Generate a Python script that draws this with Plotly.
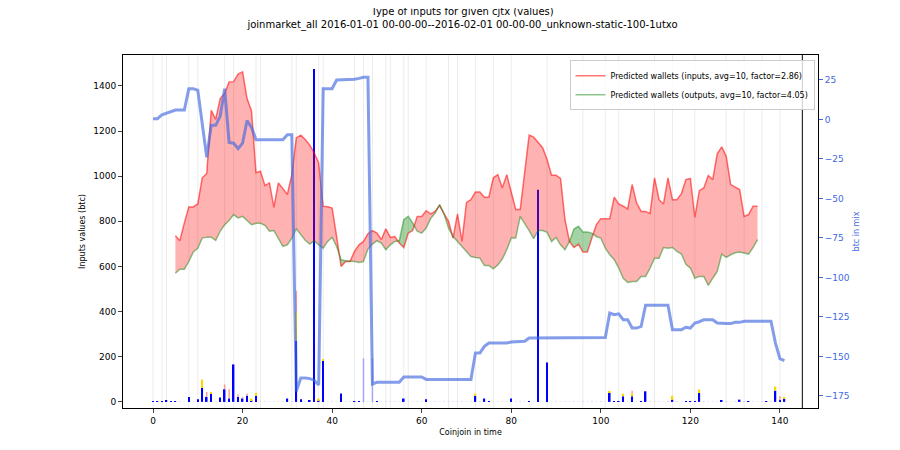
import numpy as np
import plotly.graph_objects as go

x_pred = list(range(5, 136))
inputs = [736,714,793,864,864,877,993,1012,1292,1252,1344,1366,1418,1419,1452,1462,1344,1289,1015,1022,
          958,970,862,970,945,919,1007,1170,1182,1163,1138,1104,1059,867,865,859,733,600,622,622,
          667,696,711,745,759,748,719,767,729,733,704,684,748,759,822,822,847,833,844,870,
          833,800,726,833,711,884,896,930,930,907,907,993,1007,948,1007,933,852,852,1022,1182,
          1173,1148,1126,1074,1004,1004,990,807,711,684,699,664,664,726,785,812,812,812,907,877,
          867,855,963,881,844,844,834,993,896,877,993,896,896,923,985,990,818,936,948,1003,
          985,1099,1130,1089,963,951,941,822,830,867,867]
outputs = [570,588,588,622,664,681,726,730,730,716,756,785,804,830,815,822,804,785,791,791,
           782,756,759,726,689,696,726,767,741,716,699,714,696,681,711,729,689,630,625,625,
           622,618,622,677,699,714,704,674,696,711,714,807,822,793,756,748,770,812,837,874,
           833,770,733,711,689,667,644,640,637,604,604,590,607,633,674,726,726,822,793,759,
           723,759,759,751,711,729,696,674,711,766,778,753,753,748,733,726,681,652,630,593,
           548,529,533,533,556,556,593,637,637,684,681,684,667,655,610,593,548,556,556,516,
           548,578,655,640,652,661,664,661,655,684,719]

x_mix = list(range(0, 142))
btc_in_mix = [0.5,0.5,3,4,4.5,6,6,6,19.5,19.5,18.5,-3,-24,-3.7,-3.7,2,19.5,-14.5,-15,-18.5,
              -15,-0.7,-5,-12.8,-12.8,-12.8,-12.8,-12.8,-12.8,-12.8,-9.6,-9.6,-172,-163.6,-163.6,-164,-165,-168,19.5,19.5,
              19.5,25,25,25.2,25.2,25.4,26,26.7,26.7,-167.4,-166.3,-166.3,-166.3,-166.3,-166.3,-166.3,-163,-163,-163,-163,
              -163,-164.5,-164.5,-164.5,-164.5,-164.5,-164.5,-164.5,-164.5,-164.5,-164.5,-164.5,-147.8,-147.8,-143.6,-141.5,-141.5,-141.5,-141.5,-141.5,
              -140.8,-140.8,-140.8,-140.4,-138.3,-138.3,-138.3,-138.3,-138.3,-138.3,-138.1,-138.1,-138.1,-138.1,-138.1,-138.1,-138.1,-138.1,-138.1,-138.1,
              -138.1,-138,-122.5,-123.5,-123,-126.7,-126.7,-132,-132,-131,-117.6,-117.6,-117.6,-117.6,-117.6,-117.6,-133,-133,-133,-131.5,
              -132,-128.8,-128,-126.7,-126.7,-126.7,-128.8,-129.2,-129.2,-129.2,-128.4,-128.4,-127.7,-127.7,-127.7,-127.7,-127.7,-127.7,-127.7,-141.5,
              -151.4,-152.6]

blue_vals = {0:3,1:2,2:3,3:5,4:4,5:4,8:22,10:12,11:62,12:22,13:37,15:19,16:56,17:15,18:166,19:22,20:15,21:27,22:7,23:27,
             30:15,32:270,33:12,35:7,36:1475,37:7,38:185,42:37,45:2,46:2,50:4,56:15,61:12,72:27,74:15,75:4,80:15,84:4,
             86:940,88:175,102:40,103:4,104:4,105:25,107:25,109:4,110:47,116:10,119:4,120:4,121:4,122:40,127:7,131:10,
             133:4,137:2,139:50,140:7,141:15}
yellow_vals = {11:37,13:7,22:8,23:14,32:130,37:8,38:5,72:10,102:4,105:12,107:12,116:17,122:15,139:18,141:6}
pink_vals = {12:22,16:21,17:41,19:12,20:7,21:10,32:92,107:12,140:18}
faded_vals = {47:193,49:193}
grid_x = [0,2,3,8,10,16,18,23,24,31,32,37,38,45,47,49,52,53,56,57,61,66,68,72,76,80,88,96,101,104,112,116,121,128,132,136,140]

fig = go.Figure()

xp = np.array(x_pred, float); a = np.array(inputs, float); b = np.array(outputs, float)
X = [xp[0]]; A = [a[0]]; B = [b[0]]
for i in range(len(xp) - 1):
    d0 = a[i] - b[i]; d1 = a[i+1] - b[i+1]
    if d0 * d1 < 0:
        t = d0 / (d0 - d1)
        xc = xp[i] + t * (xp[i+1] - xp[i]); yc = a[i] + t * (a[i+1] - a[i])
        X.append(xc); A.append(yc); B.append(yc)
    X.append(xp[i+1]); A.append(a[i+1]); B.append(b[i+1])
X = np.array(X); A = np.array(A); B = np.array(B); M = np.minimum(A, B)

for top, col in ((A, 'rgba(255,0,0,0.3)'), (B, 'rgba(0,128,0,0.35)')):
    fig.add_trace(go.Scatter(x=X, y=M, mode='lines', line=dict(width=0), showlegend=False, hoverinfo='skip'))
    fig.add_trace(go.Scatter(x=X, y=top, mode='lines', line=dict(width=0), fill='tonexty', fillcolor=col,
                             showlegend=False, hoverinfo='skip'))

fig.add_trace(go.Scatter(x=x_pred, y=inputs, mode='lines', line=dict(color='rgba(255,0,0,0.55)', width=1.5),
                         name='Predicted wallets (inputs, avg=10, factor=2.86)', legendrank=1))
fig.add_trace(go.Scatter(x=x_pred, y=outputs, mode='lines', line=dict(color='rgba(0,128,0,0.45)', width=1.5),
                         name='Predicted wallets (outputs, avg=10, factor=4.05)', legendrank=2))

def bar(d, color, base=None):
    xs = list(d.keys()); ys = list(d.values())
    bs = [base.get(k, 0) for k in xs] if base else None
    fig.add_trace(go.Bar(x=xs, y=ys, base=bs, marker=dict(color=color, line=dict(width=0)), width=0.35,
                         showlegend=False))
baseline = {k: 1.5 for k in x_mix if k not in blue_vals}
fig.add_trace(go.Bar(x=list(baseline.keys()), y=list(baseline.values()), base=0,
                     marker=dict(color='rgba(0,0,255,0.3)', line=dict(width=0)), width=0.35, showlegend=False))
bar(blue_vals, 'blue')
bar(yellow_vals, 'gold', blue_vals)
ybase = {k: blue_vals.get(k, 0) + yellow_vals.get(k, 0) for k in pink_vals}
bar(pink_vals, 'rgba(240,128,128,0.7)', ybase)
bar(faded_vals, 'rgba(0,0,255,0.3)')

fig.add_trace(go.Scatter(x=x_mix, y=btc_in_mix, mode='lines', yaxis='y2',
                         line=dict(color='rgba(65,105,225,0.65)', width=3), showlegend=False))

shapes = [dict(type='line', xref='x', yref='paper', x0=g, x1=g, y0=0, y1=1,
               line=dict(color='rgba(0,0,0,0.08)', width=1), layer='below') for g in grid_x]
shapes.append(dict(type='line', xref='x', yref='paper', x0=145, x1=145, y0=0, y1=1,
                   line=dict(color='black', width=1)))

fig.update_layout(
    width=900, height=450, barmode='overlay', plot_bgcolor='white', paper_bgcolor='white',
    margin=dict(l=115, r=90, t=47, b=50, autoexpand=False),
    font=dict(family='DejaVu Sans', size=9, color='black'),
    title=dict(text='Type of inputs for given cjtx (values)<br>joinmarket_all 2016-01-01 00-00-00--2016-02-01 00-00-00_unknown-static-100-1utxo',
               x=0.505, xanchor='center', yref='container', y=0.985, yanchor='top', font=dict(size=10)),
    xaxis=dict(range=[-6.7, 148.5], tickvals=[0,20,40,60,80,100,120,140], showgrid=False, zeroline=False,
               showline=True, linecolor='black', mirror=True, ticks='outside', ticklen=4, automargin=False,
               title=dict(text='Coinjoin in time', standoff=4, font=dict(size=8))),
    yaxis=dict(range=[-27, 1537], tickvals=list(range(0, 1600, 200)), showgrid=False, zeroline=False,
               showline=True, linecolor='black', mirror=True, ticks='outside', ticklen=4, automargin=False,
               title=dict(text='Inputs values (btc)', standoff=6, font=dict(size=8))),
    yaxis2=dict(overlaying='y', side='right', range=[-182.6, 40.8], tickvals=[25,0,-25,-50,-75,-100,-125,-150,-175],
                ticktext=['25','0','−25','−50','−75','−100','−125','−150','−175'], automargin=False,
                showgrid=False, zeroline=False, ticks='outside', ticklen=4, tickcolor='royalblue',
                tickfont=dict(color='royalblue'),
                title=dict(text='btc in mix', standoff=4, font=dict(color='royalblue', size=8))),
    legend=dict(x=0.995, y=0.985, xanchor='right', yanchor='top', bgcolor='rgba(255,255,255,0.8)',
                traceorder='normal', bordercolor='#ccc', borderwidth=1, font=dict(size=8),
                tracegroupgap=0, itemwidth=30),
    shapes=shapes,
)
fig.write_html('out.html')
